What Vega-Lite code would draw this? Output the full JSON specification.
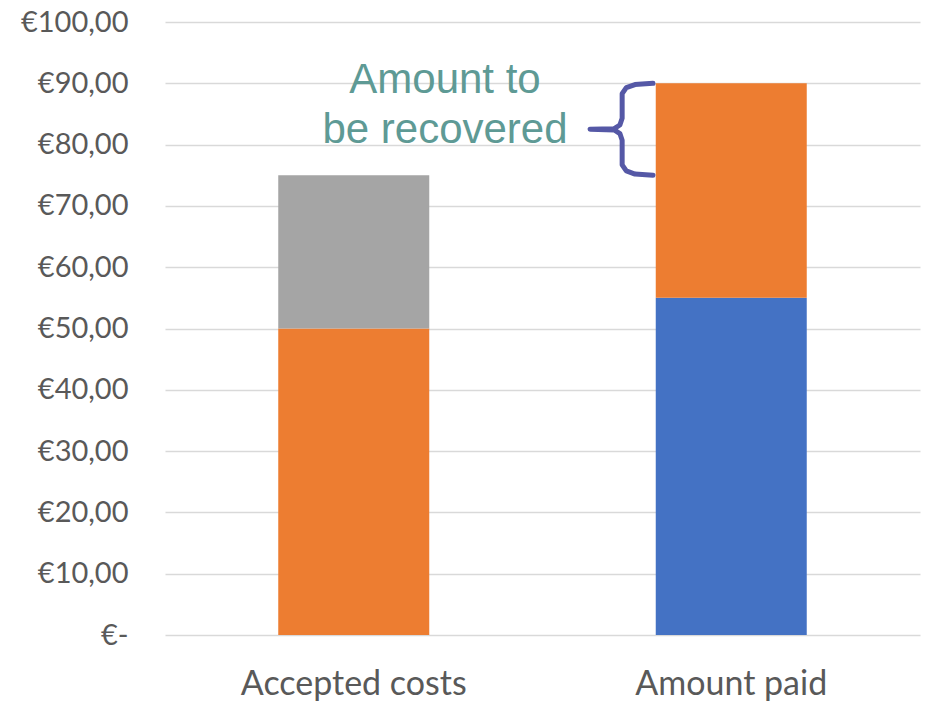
{
  "$schema": "https://vega.github.io/schema/vega-lite/v6.json",
  "width": 755,
  "height": 613,
  "autosize": {"type": "none"},
  "padding": {"left": 165, "top": 22, "right": 5, "bottom": 67},
  "background": "white",
  "config": {"view": {"stroke": null}},
  "datasets": {
    "bars": [
      {"category": "Accepted costs", "segment": "orange", "order": 1, "value": 50},
      {"category": "Accepted costs", "segment": "gray", "order": 2, "value": 25},
      {"category": "Amount paid", "segment": "blue", "order": 1, "value": 55},
      {"category": "Amount paid", "segment": "orange", "order": 2, "value": 35}
    ],
    "labels": [
      {"label": "Amount to", "x": 0.2417, "y": 90.5},
      {"label": "be recovered", "x": 0.2417, "y": 82.4}
    ],
    "brace": [
      {"i": 1, "x": 0.7927, "y": 90.0},
      {"i": 2, "x": 0.745, "y": 89.8},
      {"i": 3, "x": 0.722, "y": 89.3},
      {"i": 4, "x": 0.711, "y": 88.3},
      {"i": 5, "x": 0.711, "y": 84.3},
      {"i": 6, "x": 0.705, "y": 83.2},
      {"i": 7, "x": 0.69, "y": 82.6},
      {"i": 8, "x": 0.626, "y": 82.5},
      {"i": 9, "x": 0.69, "y": 82.4},
      {"i": 10, "x": 0.705, "y": 81.8},
      {"i": 11, "x": 0.711, "y": 80.7},
      {"i": 12, "x": 0.711, "y": 76.7},
      {"i": 13, "x": 0.722, "y": 75.7},
      {"i": 14, "x": 0.745, "y": 75.2},
      {"i": 15, "x": 0.7927, "y": 75.0}
    ]
  },
  "layer": [
    {
      "data": {"name": "bars"},
      "mark": {"type": "bar"},
      "encoding": {
        "x": {
          "field": "category",
          "type": "nominal",
          "sort": ["Accepted costs", "Amount paid"],
          "scale": {"paddingInner": 0.6, "paddingOuter": 0.3},
          "axis": {
            "title": null,
            "labelAngle": 0,
            "domain": false,
            "ticks": false,
            "labelLimit": 0,
            "labelFont": "Lato",
            "labelFontSize": 34,
            "labelColor": "#595959",
            "labelPadding": 32
          }
        },
        "y": {
          "field": "value",
          "type": "quantitative",
          "stack": "zero",
          "scale": {"domain": [0, 100]},
          "axis": {
            "title": null,
            "values": [0, 10, 20, 30, 40, 50, 60, 70, 80, 90, 100],
            "labelExpr": "datum.value == 0 ? '€-' : '€' + replace(format(datum.value, '.2f'), '.', ',')",
            "domain": false,
            "ticks": false,
            "grid": true,
            "gridColor": "#d9d9d9",
            "gridWidth": 1.5,
            "labelFont": "Lato",
            "labelFontSize": 29,
            "labelColor": "#595959",
            "labelPadding": 37
          }
        },
        "order": {"field": "order", "type": "quantitative"},
        "color": {
          "field": "segment",
          "type": "nominal",
          "scale": {"domain": ["orange", "gray", "blue"], "range": ["#ED7D31", "#A5A5A5", "#4472C4"]},
          "legend": null
        }
      }
    },
    {
      "data": {"name": "labels"},
      "mark": {"type": "text", "font": "Liberation Sans", "fontSize": 42, "color": "#5E9A95", "align": "center", "baseline": "middle"},
      "encoding": {
        "x": {"field": "x", "type": "quantitative", "scale": {"domain": [-0.5, 1.5]}, "axis": null},
        "y": {"field": "y", "type": "quantitative", "scale": {"domain": [0, 100]}},
        "text": {"field": "label"}
      }
    },
    {
      "data": {"name": "brace"},
      "mark": {"type": "line", "color": "#5558A6", "strokeWidth": 5, "strokeCap": "round", "strokeJoin": "round"},
      "encoding": {
        "x": {"field": "x", "type": "quantitative", "scale": {"domain": [-0.5, 1.5]}, "axis": null},
        "y": {"field": "y", "type": "quantitative", "scale": {"domain": [0, 100]}},
        "order": {"field": "i", "type": "quantitative"}
      }
    }
  ],
  "resolve": {"scale": {"x": "independent"}}
}
